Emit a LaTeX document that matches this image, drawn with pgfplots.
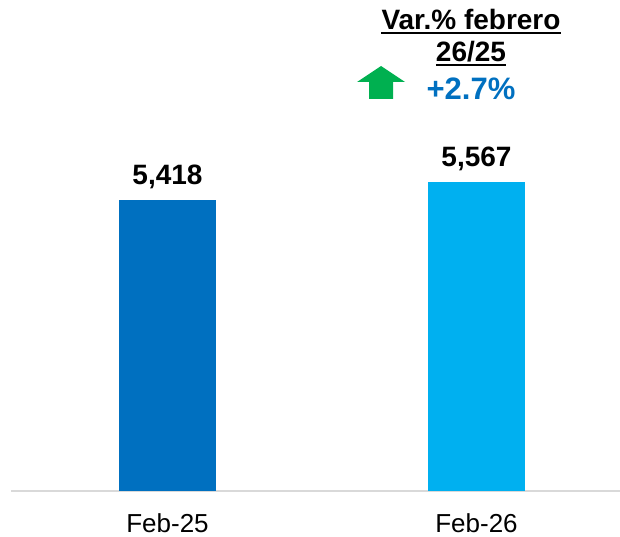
\documentclass[border=0pt]{standalone}
\usepackage{pgfplots}
\pgfplotsset{compat=1.18}
\usepackage{fontspec}
\setmainfont{Liberation Sans}
\definecolor{darkblue}{HTML}{0070C0}
\definecolor{lightblue}{HTML}{00B0F0}
\definecolor{axgray}{HTML}{D9D9D9}
\definecolor{arrowgreen}{HTML}{00B050}
\begin{document}
\begin{tikzpicture}
\path[use as bounding box] (0pt,0pt) rectangle (620pt,536pt);
\begin{axis}[
  at={(11pt,45pt)}, anchor=south west,
  scale only axis, width=609pt, height=461pt,
  xmin=-0.5065, xmax=1.4644, ymin=3012, ymax=6828,
  hide y axis, axis x line*=bottom,
  x axis line style={color=axgray, line width=1.5pt},
  xtick={0,1}, xticklabels={Feb-25,Feb-26},
  major tick length=0pt,
  xticklabel style={font=\fontsize{26}{30}\selectfont, anchor=base, inner sep=0pt, yshift=-41pt},
  ybar, bar width=97pt, bar shift=0pt,
  clip=false,
  nodes near coords={\pgfmathprintnumber[assume math mode=true,1000 sep={,}]{\pgfplotspointmeta}},
  every node near coord/.append style={font=\bfseries\fontsize{28}{32}\selectfont, anchor=base, inner sep=0pt, yshift=16pt, text=black},
]
\addplot[fill=darkblue, draw=none] coordinates {(0,5418)};
\addplot[fill=lightblue, draw=none] coordinates {(1,5567)};
\end{axis}
\node[anchor=base, inner sep=0pt, font=\bfseries\fontsize{28}{32}\selectfont] (t1) at (471pt,506.7pt) {Var.\% febrero};
\draw[line width=2pt] ([yshift=-3.5pt]t1.base west) -- ([yshift=-3.5pt]t1.base east);
\node[anchor=base, inner sep=0pt, font=\bfseries\fontsize{28}{32}\selectfont] (t2) at (471pt,474pt) {26/25};
\draw[line width=2pt] ([yshift=-3.5pt]t2.base west) -- ([yshift=-3.5pt]t2.base east);
\node[anchor=base, inner sep=0pt, text=darkblue, font=\bfseries\fontsize{31}{36}\selectfont] at (471pt,436pt) {+2.7\%};
\fill[arrowgreen] (357pt,454pt) -- (381pt,470pt) -- (405pt,454pt) -- (393pt,454pt) -- (393pt,437pt) -- (369pt,437pt) -- (369pt,454pt) -- cycle;
\end{tikzpicture}
\end{document}
